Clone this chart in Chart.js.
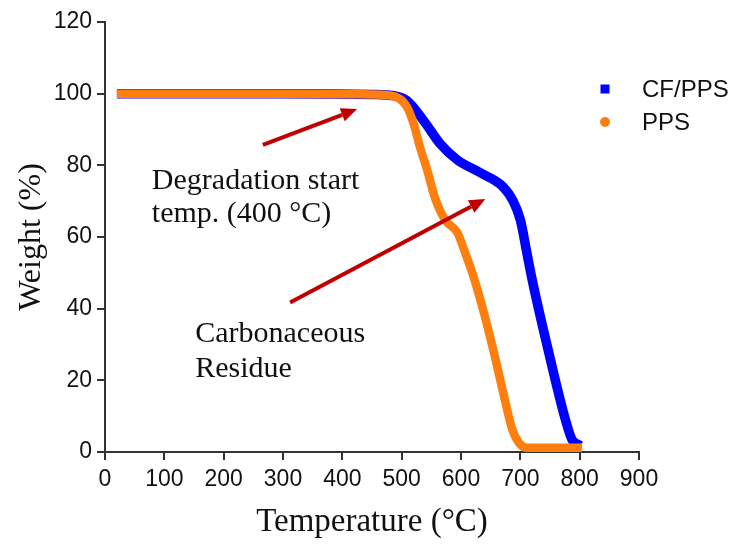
<!DOCTYPE html>
<html>
  <head>
    <script src="https://cdn.jsdelivr.net/npm/chart.js"></script>
    <style>
      body { margin: 0; background: #ffffff; }
      canvas { display: block; }
    </style>
  </head>

  <body>
    <canvas id="tga" width="740" height="548"></canvas>

    <script>
      // TGA curves
      const seriesLabels = ["CF/PPS", "PPS"];
      const cfTemp = [20, 300, 450, 490, 509, 536, 565, 594, 632, 671, 688, 700, 711, 720, 739, 759, 776, 787, 801];
      const cfWeight = [100, 100, 99.8, 99.3, 98, 92.7, 86, 81.5, 78, 74, 70, 64.8, 55.6, 48, 34, 20, 9, 3.5, 1.8];
      const ppsTemp = [20, 300, 450, 481, 509, 520, 531, 543, 556, 573, 594, 607, 621, 640, 658, 674, 686, 698, 712, 804];
      const ppsWeight = [100, 100, 99.8, 99.5, 96.3, 91.7, 85, 78.7, 71, 64.8, 61.2, 55.6, 49, 38, 26, 14.5, 6.5, 2.5, 1.2, 1.2];
      const xTicks = [0, 100, 200, 300, 400, 500, 600, 700, 800, 900];
      const yTicks = [0, 20, 40, 60, 80, 100, 120];

      // annotation text (drawn in data coordinates)
      const noteDegradation = ["Degradation start", "temp. (400 °C)"];
      const noteResidue = ["Carbonaceous", "Residue"];

      const BLUE = "#0000ff";
      const ORANGE = "#ff7f0e";
      const ARROW = "#c00000";
      const AXIS = "#333333";
      const SANS = "'Liberation Sans', Arial, sans-serif";
      const SERIF = "'Liberation Serif', 'Times New Roman', serif";

      function points(xs, ys) {
        return xs.map((x, i) => ({ x: x, y: ys[i] }));
      }

      function drawArrow(ctx, x1, y1, x2, y2) {
        const ang = Math.atan2(y2 - y1, x2 - x1);
        const headLen = 16, headHalf = 7;
        const bx = x2 - headLen * Math.cos(ang);
        const by = y2 - headLen * Math.sin(ang);
        ctx.strokeStyle = ARROW;
        ctx.fillStyle = ARROW;
        ctx.lineWidth = 4;
        ctx.beginPath();
        ctx.moveTo(x1, y1);
        ctx.lineTo(bx, by);
        ctx.stroke();
        ctx.beginPath();
        ctx.moveTo(x2, y2);
        ctx.lineTo(bx + headHalf * Math.sin(ang), by - headHalf * Math.cos(ang));
        ctx.lineTo(bx - headHalf * Math.sin(ang), by + headHalf * Math.cos(ang));
        ctx.closePath();
        ctx.fill();
      }

      const notesPlugin = {
        id: "notes",
        afterDatasetsDraw(chart) {
          const ctx = chart.ctx;
          const xs = chart.scales.x, ys = chart.scales.y;
          ctx.save();
          drawArrow(ctx, xs.getPixelForValue(266), ys.getPixelForValue(85.7),
                         xs.getPixelForValue(425), ys.getPixelForValue(95.7));
          drawArrow(ctx, xs.getPixelForValue(312), ys.getPixelForValue(41.7),
                         xs.getPixelForValue(641), ys.getPixelForValue(70.6));

          ctx.fillStyle = "#111111";
          ctx.font = "30px " + SERIF;
          ctx.textAlign = "left";
          ctx.textBaseline = "alphabetic";
          ctx.fillText(noteDegradation[0], xs.getPixelForValue(79), ys.getPixelForValue(73.5));
          ctx.fillText(noteDegradation[1], xs.getPixelForValue(79), ys.getPixelForValue(64.2));
          ctx.fillText(noteResidue[0], xs.getPixelForValue(152), ys.getPixelForValue(30.8));
          ctx.fillText(noteResidue[1], xs.getPixelForValue(152), ys.getPixelForValue(20.8));

          // legend, top right
          const lx = chart.chartArea.right - 34;
          const rows = [89, 122];
          ctx.font = "24px " + SANS;
          ctx.textBaseline = "middle";
          chart.data.datasets.forEach((ds, i) => {
            const cy = rows[i];
            ctx.fillStyle = ds.borderColor;
            if (i === 0) {
              ctx.fillRect(lx - 4.5, cy - 4.5, 9, 9);
            } else {
              ctx.beginPath();
              ctx.arc(lx, cy, 5, 0, Math.PI * 2);
              ctx.fill();
            }
            ctx.fillStyle = "#111111";
            ctx.fillText(ds.label, lx + 37, cy + 1);
          });
          ctx.restore();
        },
      };

      const ctx = document.getElementById("tga").getContext("2d");

      const chart = new Chart(ctx, {
        type: "line",
        data: {
          datasets: [
            {
              label: seriesLabels[0],
              data: points(cfTemp, cfWeight),
              borderColor: BLUE,
              backgroundColor: BLUE,
              borderWidth: 9.5,
              pointRadius: 0,
              cubicInterpolationMode: "monotone",
              fill: false,
              order: 1,
            },
            {
              label: seriesLabels[1],
              data: points(ppsTemp, ppsWeight),
              borderColor: ORANGE,
              backgroundColor: ORANGE,
              borderWidth: 8.5,
              pointRadius: 0,
              cubicInterpolationMode: "monotone",
              fill: false,
              order: 0,
            },
          ],
        },
        options: {
          responsive: false,
          animation: false,
          devicePixelRatio: 1,
          layout: {
            padding: { top: 22, right: 101, left: 0, bottom: 0 },
          },
          scales: {
            x: {
              type: "linear",
              min: 0,
              max: 900,
              afterBuildTicks: (s) => { s.ticks = xTicks.map((v) => ({ value: v })); },
              afterFit: (s) => { s.height = 96; },
              grid: {
                display: true,
                drawOnChartArea: false,
                drawTicks: true,
                tickLength: 8,
                color: AXIS,
                lineWidth: 2,
              },
              border: { display: true, color: AXIS, width: 2 },
              ticks: {
                color: "#111111",
                padding: 6,
                maxRotation: 0,
                font: { family: SANS, size: 23 },
              },
              title: {
                display: true,
                text: "Temperature (°C)",
                color: "#111111",
                padding: { top: 0, bottom: 6 },
                font: { family: SERIF, size: 33 },
              },
            },
            y: {
              min: 0,
              max: 120,
              afterBuildTicks: (s) => { s.ticks = yTicks.map((v) => ({ value: v })); },
              afterFit: (s) => { s.width = 105; },
              grid: {
                display: true,
                drawOnChartArea: false,
                drawTicks: true,
                tickLength: 8,
                color: AXIS,
                lineWidth: 2,
              },
              border: { display: true, color: AXIS, width: 2 },
              ticks: {
                color: "#111111",
                padding: 5,
                font: { family: SANS, size: 23 },
              },
              title: {
                display: true,
                text: "Weight (%)",
                color: "#111111",
                padding: { top: 12, bottom: 0 },
                font: { family: SERIF, size: 32 },
              },
            },
          },
          plugins: {
            legend: { display: false },
            tooltip: { enabled: false },
          },
        },
        plugins: [notesPlugin],
      });
    </script>
  </body>
</html>
